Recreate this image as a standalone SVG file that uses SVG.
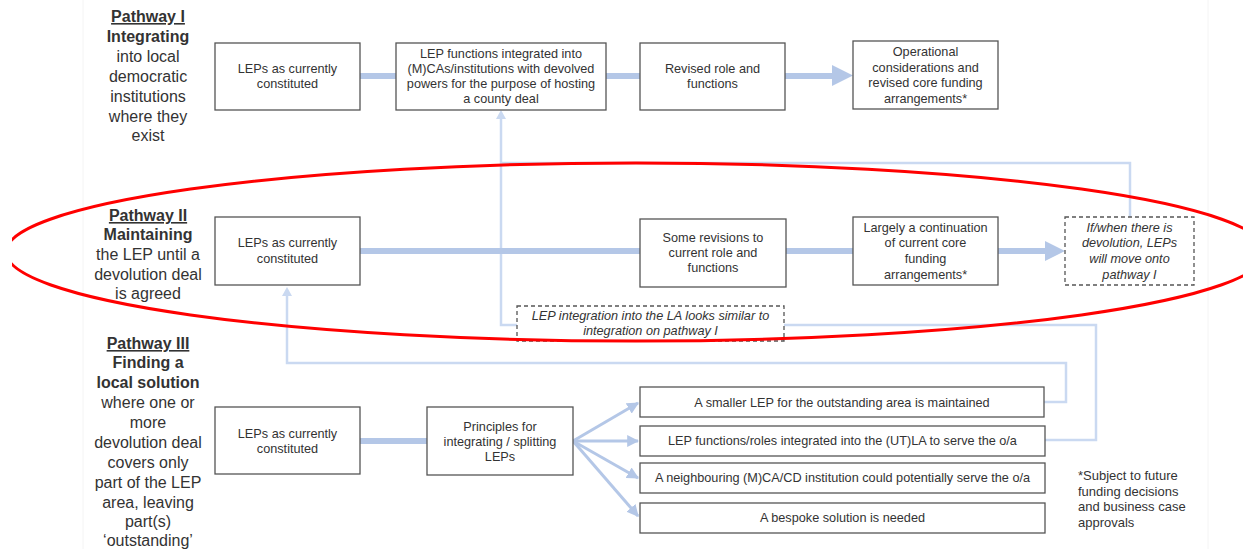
<svg xmlns="http://www.w3.org/2000/svg" width="1243" height="549" viewBox="0 0 1243 549">
<defs>
<style>
.box{fill:#fff;stroke:#555;stroke-width:1.3}
.dbox{fill:#fff;stroke:#555;stroke-width:1.3;stroke-dasharray:4 3}
.t{font-family:"Liberation Sans",Arial,sans-serif;font-size:12.7px;fill:#333;text-anchor:middle}
.ti{font-family:"Liberation Sans",Arial,sans-serif;font-size:12.7px;fill:#333;text-anchor:middle;font-style:italic}
.lab{font-family:"Liberation Sans",Arial,sans-serif;font-size:16px;fill:#333;text-anchor:middle}
.b{font-weight:bold}
.u{text-decoration:underline}
.thick{fill:none;stroke:#b4c7e7;stroke-width:6}
.fan{fill:none;stroke:#b4c7e7;stroke-width:3}
.thin{fill:none;stroke:#cad9f1;stroke-width:2.5}
.head{fill:#b4c7e7}
.thead{fill:#cad9f1}
.note{font-family:"Liberation Sans",Arial,sans-serif;font-size:13px;fill:#333}
</style>
<marker id="fanArrow" viewBox="0 0 10 10" refX="9" refY="5" markerWidth="4" markerHeight="4" orient="auto" markerUnits="strokeWidth">
<path d="M0,0 L10,5 L0,10 z" fill="#b4c7e7"/>
</marker>
<clipPath id="clipL"><rect x="12" y="0" width="1231" height="549"/></clipPath>
</defs>
<rect width="1243" height="549" fill="#fff"/>
<line x1="83" y1="0" x2="83" y2="549" stroke="#f4f4f4" stroke-width="1"/>
<line x1="1208" y1="0" x2="1208" y2="549" stroke="#f4f4f4" stroke-width="1"/>

<g id="labels">
<text class="lab b u" x="148" y="22">Pathway I</text>
<text class="lab b" x="148" y="42">Integrating</text>
<text class="lab" x="148" y="62">into local</text>
<text class="lab" x="148" y="82">democratic</text>
<text class="lab" x="148" y="102">institutions</text>
<text class="lab" x="148" y="122">where they</text>
<text class="lab" x="148" y="141">exist</text>

<text class="lab b u" x="148" y="221">Pathway II</text>
<text class="lab b" x="148" y="240">Maintaining</text>
<text class="lab" x="148" y="260">the LEP until a</text>
<text class="lab" x="148" y="280">devolution deal</text>
<text class="lab" x="148" y="299">is agreed</text>

<text class="lab b u" x="148" y="349">Pathway III</text>
<text class="lab b" x="148" y="368">Finding a</text>
<text class="lab b" x="148" y="388">local solution</text>
<text class="lab" x="148" y="408">where one or</text>
<text class="lab" x="148" y="428">more</text>
<text class="lab" x="148" y="448">devolution deal</text>
<text class="lab" x="148" y="468">covers only</text>
<text class="lab" x="148" y="488">part of the LEP</text>
<text class="lab" x="148" y="508">area, leaving</text>
<text class="lab" x="148" y="527">part(s)</text>
<text class="lab" x="148" y="546">‘outstanding’</text>
</g>

<g id="connectors">
<path class="thin" d="M1044,402 H1066 V363 H287 V295"/>
<polygon class="thead" points="287,287 282,296 292,296"/>
<path class="thin" d="M1045,440 H1096 V325 H501 V118"/>
<polygon class="thead" points="501,110 496,119 506,119"/>
<path class="thin" d="M1130,217 V163 H501"/>

<line class="thick" x1="360" y1="76" x2="396" y2="76"/>
<line class="thick" x1="606" y1="76" x2="640" y2="76"/>
<line class="thick" x1="785" y1="76" x2="833" y2="76"/>
<polygon class="head" points="832,65 853,75.5 832,86"/>

<line class="thick" x1="360" y1="251" x2="640" y2="251"/>
<line class="thick" x1="786" y1="251" x2="853" y2="251"/>
<line class="thick" x1="998" y1="251" x2="1046" y2="251"/>
<polygon class="head" points="1045,241 1065,251 1045,261"/>

<line class="thick" x1="360" y1="441" x2="427" y2="441"/>
<line class="fan" x1="573" y1="441" x2="638" y2="403" marker-end="url(#fanArrow)"/>
<line class="fan" x1="573" y1="441" x2="638" y2="441" marker-end="url(#fanArrow)"/>
<line class="fan" x1="573" y1="441" x2="638" y2="478" marker-end="url(#fanArrow)"/>
<line class="fan" x1="573" y1="441" x2="638" y2="516" marker-end="url(#fanArrow)"/>
</g>

<g id="p1-lep">
<rect class="box" x="215" y="43" width="145" height="67"/>
<text class="t" x="287.5" y="73">LEPs as currently</text>
<text class="t" x="287.5" y="88">constituted</text>
</g>
<g id="p1-integrated">
<rect class="box" x="396" y="43" width="210" height="67"/>
<text class="t" x="501" y="57.5">LEP functions integrated into</text>
<text class="t" x="501" y="73">(M)CAs/institutions with devolved</text>
<text class="t" x="501" y="88">powers for the purpose of hosting</text>
<text class="t" x="501" y="103">a county deal</text>
</g>
<g id="p1-revised">
<rect class="box" x="640" y="43" width="145" height="67"/>
<text class="t" x="712.5" y="73">Revised role and</text>
<text class="t" x="712.5" y="88">functions</text>
</g>
<g id="p1-operational">
<rect class="box" x="853" y="41" width="145" height="68"/>
<text class="t" x="925.5" y="56">Operational</text>
<text class="t" x="925.5" y="72">considerations and</text>
<text class="t" x="925.5" y="87">revised core funding</text>
<text class="t" x="925.5" y="103">arrangements*</text>
</g>

<g id="p2-lep">
<rect class="box" x="215" y="217" width="145" height="68"/>
<text class="t" x="287.5" y="247">LEPs as currently</text>
<text class="t" x="287.5" y="263">constituted</text>
</g>
<g id="p2-revisions">
<rect class="box" x="640" y="219" width="146" height="68"/>
<text class="t" x="713" y="242">Some revisions to</text>
<text class="t" x="713" y="257">current role and</text>
<text class="t" x="713" y="272">functions</text>
</g>
<g id="p2-largely">
<rect class="box" x="853" y="217" width="145" height="68"/>
<text class="t" x="925.5" y="232">Largely a continuation</text>
<text class="t" x="925.5" y="247">of current core</text>
<text class="t" x="925.5" y="263">funding</text>
<text class="t" x="925.5" y="279">arrangements*</text>
</g>
<g id="p2-ifwhen">
<rect class="dbox" x="1065" y="217" width="129" height="68"/>
<text class="ti" x="1129.5" y="232">If/when there is</text>
<text class="ti" x="1129.5" y="247">devolution, LEPs</text>
<text class="ti" x="1129.5" y="263">will move onto</text>
<text class="ti" x="1129.5" y="279">pathway I</text>
</g>
<g id="p2-note">
<rect class="dbox" x="517" y="306" width="267" height="35"/>
<text class="ti" x="650.5" y="320">LEP integration into the LA looks similar to</text>
<text class="ti" x="650.5" y="335">integration on pathway I</text>
</g>

<g id="p3-lep">
<rect class="box" x="215" y="407" width="145" height="67"/>
<text class="t" x="287.5" y="438">LEPs as currently</text>
<text class="t" x="287.5" y="453">constituted</text>
</g>
<g id="p3-principles">
<rect class="box" x="427" y="407" width="146" height="68"/>
<text class="t" x="500" y="431">Principles for</text>
<text class="t" x="500" y="446">integrating / splitting</text>
<text class="t" x="500" y="461">LEPs</text>
</g>
<g id="p3-smaller">
<rect class="box" x="640" y="387" width="404" height="30"/>
<text class="t" x="842" y="407">A smaller LEP for the outstanding area is maintained</text>
</g>
<g id="p3-functions">
<rect class="box" x="640" y="426" width="405" height="30"/>
<text class="t" x="842.5" y="445">LEP functions/roles integrated into the (UT)LA to serve the o/a</text>
</g>
<g id="p3-neighbouring">
<rect class="box" x="640" y="463" width="405" height="30"/>
<text class="t" x="842.5" y="482">A neighbouring (M)CA/CD institution could potentially serve the o/a</text>
</g>
<g id="p3-bespoke">
<rect class="box" x="640" y="503" width="405" height="30"/>
<text class="t" x="842.5" y="522">A bespoke solution is needed</text>
</g>

<g id="footnote">
<text class="note" x="1078" y="480">*Subject to future</text>
<text class="note" x="1078" y="496">funding decisions</text>
<text class="note" x="1078" y="511">and business case</text>
<text class="note" x="1078" y="527">approvals</text>
</g>

<g id="highlight" clip-path="url(#clipL)">
<ellipse cx="636" cy="252" rx="630" ry="89" fill="none" stroke="#ff0000" stroke-width="3"/>
</g>
</svg>
